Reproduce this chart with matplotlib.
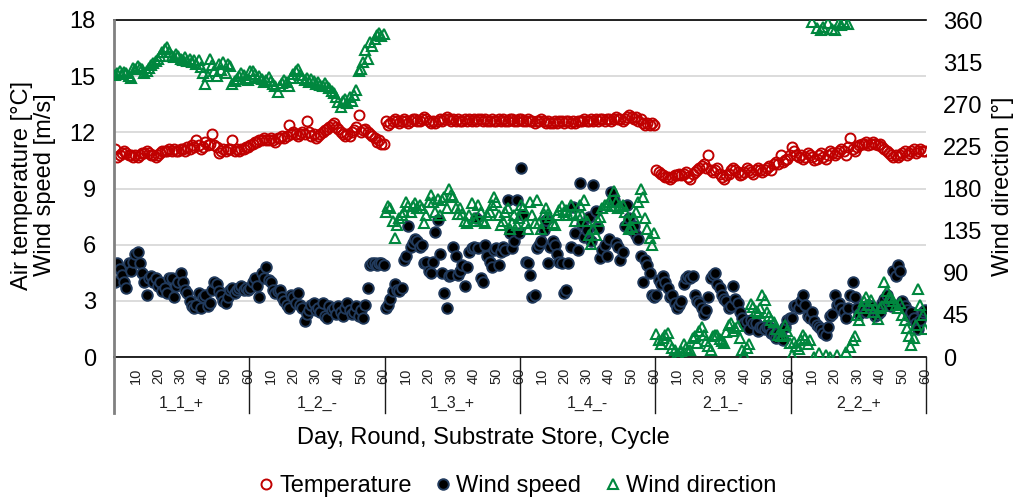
import matplotlib
matplotlib.use("Agg")
import matplotlib.pyplot as plt
import matplotlib.transforms as mtransforms
from matplotlib.lines import Line2D
import numpy as np

plt.rcParams['font.family'] = ['Liberation Sans', 'DejaVu Sans']

groups = ["1_1_+", "1_2_-", "1_3_+", "1_4_-", "2_1_-", "2_2_+"]
tick_labels = ["10", "20", "30", "40", "50", "60"]

# Air temperature [°C]
temp_1_1 = [11.1, 10.7, 10.8, 10.9, 11.0, 10.9, 10.8, 10.8, 10.7, 10.8,
            10.7, 10.8, 10.9, 10.9, 11.0, 10.9, 10.8, 10.8, 10.7, 10.8,
            10.9, 11.0, 11.0, 11.0, 11.1, 11.0, 11.1, 11.0, 11.0, 11.1,
            11.1, 11.0, 11.2, 11.1, 11.3, 11.2, 11.6, 11.3, 11.1, 11.2,
            11.5, 11.3, 11.4, 11.9, 11.3, 11.2, 10.9, 11.0, 11.1, 11.0,
            11.1, 11.1, 11.6, 11.0, 11.1, 11.0, 11.1, 11.1, 11.2, 11.2]
temp_1_2 = [11.3, 11.4, 11.5, 11.5, 11.6, 11.6, 11.7, 11.6, 11.6, 11.7,
            11.6, 11.5, 11.7, 11.7, 11.8, 11.7, 11.8, 12.4, 11.9, 12.0,
            11.9, 11.8, 11.9, 12.0, 11.9, 12.6, 12.0, 11.8, 11.9, 11.7,
            11.8, 11.9, 12.0, 12.1, 12.2, 12.3, 12.4, 12.5, 12.3, 12.2,
            12.0, 11.9, 11.8, 11.9, 11.8, 12.0, 12.1, 12.3, 12.9, 12.0,
            12.1, 12.2, 12.0, 11.9, 11.8, 11.7, 11.5, 11.6, 11.4, 11.4]
temp_1_3 = [12.6, 12.4, 12.5, 12.6, 12.7, 12.6, 12.5, 12.6, 12.7, 12.6,
            12.5, 12.6, 12.7, 12.7, 12.6, 12.6, 12.7, 12.8, 12.7, 12.6,
            12.5, 12.6, 12.5, 12.6, 12.7, 12.6, 12.7, 12.8, 12.7, 12.6,
            12.7, 12.6, 12.7, 12.6, 12.6, 12.7, 12.6, 12.7, 12.6, 12.7,
            12.6, 12.7, 12.7, 12.6, 12.7, 12.6, 12.6, 12.7, 12.6, 12.6,
            12.7, 12.6, 12.7, 12.6, 12.6, 12.7, 12.7, 12.6, 12.6, 12.7]
temp_1_4 = [12.7, 12.6, 12.6, 12.7, 12.6, 12.6, 12.5, 12.6, 12.6, 12.7,
            12.6, 12.5, 12.6, 12.5, 12.5, 12.6, 12.5, 12.6, 12.6, 12.5,
            12.6, 12.6, 12.5, 12.6, 12.5, 12.6, 12.6, 12.6, 12.7, 12.6,
            12.6, 12.7, 12.6, 12.7, 12.6, 12.7, 12.7, 12.6, 12.7, 12.7,
            12.6, 12.7, 12.8, 12.7, 12.7, 12.6, 12.7, 12.8, 12.9, 12.8,
            12.7, 12.8, 12.6, 12.7, 12.5, 12.4, 12.5, 12.4, 12.5, 12.4]
temp_2_1 = [10.0, 9.9, 9.8, 9.7, 9.6, 9.6, 9.5, 9.6, 9.7, 9.7,
            9.8, 9.7, 9.8, 9.9, 9.6, 9.5, 9.8, 9.9, 10.0, 10.1,
            10.2, 10.3, 10.1, 10.8, 10.0, 9.9, 10.0, 10.1, 9.8, 9.6,
            9.5, 9.7, 9.8, 10.0, 10.1, 10.0, 9.9, 9.7, 9.8, 9.9,
            10.1, 10.0, 9.9, 9.8, 10.0, 10.1, 10.0, 9.9, 10.0, 10.1,
            10.2, 10.0, 10.3, 10.4, 10.3, 10.8, 10.4, 10.5, 10.6, 10.8]
temp_2_2 = [11.2, 11.0, 10.8, 10.7, 10.8, 10.6, 10.7, 10.9, 10.8, 10.7,
            10.5, 10.6, 10.8, 10.9, 10.7, 10.6, 10.8, 11.0, 10.9, 10.8,
            10.9, 11.0, 11.1, 11.0, 10.8, 11.2, 11.7, 11.1, 11.0, 11.2,
            11.3, 11.4, 11.4, 11.5, 11.3, 11.4, 11.5, 11.4, 11.3, 11.4,
            11.2, 11.1, 11.0, 10.9, 10.8, 10.7, 10.8, 10.7, 10.8, 10.9,
            11.0, 10.8, 10.9, 11.0, 11.1, 10.9, 11.0, 11.1, 11.0, 11.0]

# Wind speed [m/s]
wind_1_1 = [4.0, 5.0, 4.7, 4.4, 4.0, 3.7, 5.0, 4.6, 5.1, 5.5,
            5.6, 5.0, 4.5, 4.0, 3.3, 4.2, 4.3, 4.0, 4.2, 3.8,
            4.0, 3.5, 3.7, 3.4, 4.2, 4.2, 3.2, 3.8, 4.0, 4.5,
            4.0, 3.6, 3.4, 3.0, 2.7, 2.6, 2.8, 3.4, 2.6, 3.2,
            3.3, 2.7, 2.9, 3.6, 4.0, 3.9, 3.5, 3.3, 3.0, 2.9,
            3.2, 3.6, 3.7, 3.4, 3.6, 3.7, 3.8, 3.6, 3.7, 3.6]
wind_1_2 = [3.7, 4.0, 4.2, 3.8, 3.2, 4.5, 4.2, 4.8, 4.1, 4.0,
            3.6, 3.4, 3.5, 3.6, 3.2, 3.0, 2.8, 2.6, 3.3, 3.2,
            2.9, 3.4, 2.8, 2.6, 1.9, 2.3, 2.5, 2.8, 2.9, 2.5,
            2.6, 2.4, 2.9, 2.2, 2.1, 2.7, 2.5, 2.6, 2.3, 2.7,
            2.4, 2.2, 2.6, 2.9, 2.5, 2.3, 2.4, 2.7, 2.2, 2.5,
            2.1, 2.8, 3.7, 4.9, 5.0, 5.0, 4.9, 5.0, 5.0, 4.9]
wind_1_3 = [2.6, 2.8, 3.1, 3.5, 3.9, 3.6, 3.5, 3.7, 5.2, 5.4,
            7.0, 5.9, 6.1, 6.3, 6.2, 5.9, 6.0, 5.0, 5.1, 4.6,
            4.5, 5.1, 6.7, 7.3, 5.5, 4.5, 3.4, 2.6, 4.3, 4.4,
            5.9, 5.4, 4.4, 4.6, 4.9, 3.8, 4.8, 5.6, 5.8, 5.9,
            7.4, 5.8, 4.2, 4.0, 6.0, 5.4, 5.1, 4.8, 5.7, 5.8,
            4.9, 5.6, 5.9, 5.7, 8.4, 6.6, 5.8, 6.2, 8.4, 6.6]
wind_1_4 = [10.1, 7.6, 5.1, 5.0, 4.4, 3.2, 3.3, 5.8, 6.0, 6.2,
            6.8, 7.3, 5.0, 5.9, 6.2, 6.0, 5.5, 5.1, 5.0, 3.4,
            3.6, 5.0, 5.9, 8.0, 6.6, 5.7, 9.3, 7.1, 6.4, 6.8,
            7.5, 6.2, 9.2, 7.8, 6.9, 5.3, 5.7, 6.0, 5.4, 6.3,
            8.8, 8.4, 6.1, 5.9, 5.2, 5.6, 7.0, 8.1, 7.4, 6.8,
            7.0, 6.5, 6.3, 5.4, 4.0, 5.2, 4.9, 4.5, 3.3, 3.2]
wind_2_1 = [3.3, 4.1, 3.9, 4.3, 4.0, 3.7, 3.2, 3.3, 2.9, 2.6,
            2.8, 3.0, 3.9, 4.2, 4.3, 4.2, 4.3, 3.3, 3.0, 2.9,
            2.6, 2.3, 2.5, 3.2, 4.2, 4.4, 4.5, 3.9, 3.7, 3.3,
            3.1, 3.0, 2.6, 2.7, 3.8, 3.1, 2.9, 2.4, 2.1, 1.8,
            1.9, 1.5, 2.0, 1.8, 1.8, 1.4, 1.6, 1.6, 1.5, 1.6,
            1.6, 1.3, 1.2, 1.0, 1.3, 1.1, 0.9, 1.6, 2.0, 2.1]
wind_2_2 = [2.1, 2.7, 2.8, 2.6, 3.0, 3.3, 2.8, 2.2, 2.1, 2.4,
            1.9, 1.7, 1.6, 1.5, 1.3, 1.2, 1.6, 2.2, 2.3, 3.3,
            2.8, 2.9, 2.6, 2.4, 2.1, 2.6, 3.3, 4.0, 3.2, 2.6,
            2.3, 2.5, 2.6, 2.4, 2.8, 2.7, 2.5, 2.2, 2.3, 2.4,
            2.9, 3.1, 3.3, 2.9, 2.7, 4.6, 4.3, 4.9, 4.6, 3.0,
            2.7, 2.5, 2.2, 2.4, 2.1, 1.8, 1.5, 2.0, 2.4, 2.5]

# Wind direction [°]
wdir_1_1 = [301, 303, 305, 302, 304, 303, 300, 298, 309, 308,
            311, 309, 308, 303, 305, 309, 312, 314, 316, 318,
            322, 326, 329, 331, 326, 322, 321, 324, 322, 318,
            317, 320, 316, 318, 315, 317, 313, 317, 310, 303,
            292, 300, 318, 312, 306, 300, 313, 307, 315, 303,
            313, 311, 292, 295, 297, 300, 303, 301, 298, 296]
wdir_1_2 = [305, 306, 302, 298, 300, 297, 294, 296, 299, 295,
            292, 289, 283, 290, 293, 296, 294, 290, 298, 302,
            305, 308, 301, 298, 296, 298, 294, 297, 295, 292,
            294, 291, 289, 293, 290, 287, 284, 282, 278, 272,
            267, 274, 276, 271, 278, 274, 280, 285, 305, 308,
            315, 328, 318, 336, 332, 340, 344, 346, 343, 345]
wdir_1_3 = [155, 161, 159, 145, 127, 141, 148, 152, 155, 166,
            161, 155, 161, 164, 159, 162, 159, 143, 152, 166,
            173, 166, 155, 169, 152, 168, 171, 159, 180, 173,
            171, 159, 153, 159, 153, 145, 143, 152, 164, 148,
            145, 162, 155, 145, 143, 152, 155, 162, 171, 166,
            152, 141, 145, 155, 159, 137, 143, 152, 141, 148]
wdir_1_4 = [162, 159, 143, 137, 166, 152, 143, 168, 143, 137,
            153, 159, 153, 150, 143, 141, 152, 157, 161, 155,
            157, 152, 162, 153, 145, 152, 162, 152, 168, 145,
            130, 121, 137, 130, 145, 150, 159, 162, 162, 166,
            161, 177, 166, 159, 161, 162, 155, 146, 137, 139,
            148, 155, 166, 180, 171, 148, 137, 127, 120, 132]
wdir_2_1 = [25, 18, 14, 20, 24, 26, 14, 10, 8, 3,
            2, 6, 14, 10, 8, 7, 20, 22, 15, 28,
            32, 24, 17, 12, 8, 22, 24, 23, 19, 17,
            15, 27, 34, 36, 28, 31, 33, 20, 7, 2,
            10, 14, 57, 53, 49, 47, 52, 66, 61, 48,
            44, 40, 37, 30, 24, 22, 24, 34, 28, 15]
wdir_2_2 = [2, 16, 12, 9, 18, 23, 20, 14, 18, 358,
            0, 351, 4, 349, 353, 2, 357, 0, 350, 349,
            2, 357, 355, 358, 5, 356, 11, 18, 22, 45,
            40, 52, 60, 64, 56, 61, 48, 52, 41, 52,
            55, 80, 70, 64, 63, 60, 56, 52, 58, 45,
            40, 31, 22, 13, 20, 34, 73, 56, 45, 30]

temperature = temp_1_1 + temp_1_2 + temp_1_3 + temp_1_4 + temp_2_1 + temp_2_2
wind_speed = wind_1_1 + wind_1_2 + wind_1_3 + wind_1_4 + wind_2_1 + wind_2_2
wind_direction = wdir_1_1 + wdir_1_2 + wdir_1_3 + wdir_1_4 + wdir_2_1 + wdir_2_2

n_per = len(temp_1_1)
x = np.arange(len(temperature))

fig = plt.figure(figsize=(10.19, 4.99), dpi=100)
ax = fig.add_axes([114/1019, 1 - 357/499, (926-114)/1019, (357-20)/499])
ax2 = ax.twinx()

red = "#C00000"
green = "#00873E"

ax.plot(x, temperature, linestyle='none', marker='o', ms=7.2, mfc='none',
        mec=red, mew=1.4, label="Temperature", zorder=3)
ax.plot(x, wind_speed, linestyle='none', marker='o', ms=7.6, mfc='black',
        mec='#213A5C', mew=1.4, label="Wind speed", zorder=4)
ax2.plot(x, wind_direction, linestyle='none', marker='^', ms=7.8, mfc='none',
         mec=green, mew=1.5, label="Wind direction", zorder=5)

ax.set_xlim(-0.5, len(x) - 0.5)
ax.set_ylim(0, 18)
ax.set_yticks(np.arange(0, 19, 3))
ax2.set_ylim(0, 360)
ax2.set_yticks(np.arange(0, 361, 45))

for a in (ax, ax2):
    for s in a.spines.values():
        s.set_visible(False)
ax.spines['top'].set_visible(True)
ax.spines['top'].set_color('black')
ax.spines['top'].set_linewidth(1.2)
ax.spines['bottom'].set_visible(True)
ax.spines['bottom'].set_color('black')
ax.spines['bottom'].set_linewidth(1.2)

ax.yaxis.grid(True, color='#D9D9D9', linewidth=1.3)
ax.set_axisbelow(True)

ax.tick_params(axis='y', length=0, labelsize=17, pad=13)
ax2.tick_params(axis='y', length=0, labelsize=17, pad=12)

# x ticks: 10..60 within each group
ticks = []
labels = []
for g in range(len(groups)):
    for t in tick_labels:
        ticks.append(g * n_per + int(t) - 1)
        labels.append(t)
ax.set_xticks(ticks)
ax.set_xticklabels(labels, rotation=90, fontsize=10.5, color='#222222')
ax.tick_params(axis='x', length=0, pad=8)

trans = mtransforms.blended_transform_factory(ax.transData, ax.transAxes)
for g in range(len(groups) + 1):
    xb = g * n_per - 0.5
    col = '#808080' if g == 0 else '#1a1a1a'
    lw = 2.0 if g == 0 else 1.0
    ytop = 1.0 if g == 0 else 0.0
    ax.add_line(Line2D([xb, xb], [ytop, -0.166], transform=trans, color=col,
                       lw=lw, clip_on=False, zorder=6))
for g, name in enumerate(groups):
    ax.text(g * n_per + (n_per - 1) / 2, -0.137, name, transform=trans,
            ha='center', va='center', fontsize=11.5, color='#222222')

fig.text(22/1019, 1 - 185/499, "Air temperature [°C]", rotation=90,
         ha='center', va='center', fontsize=17)
fig.text(45/1019, 1 - 185/499, "Wind speed [m/s]", rotation=90,
         ha='center', va='center', fontsize=17)
fig.text(1003/1019, 1 - 186/499, "Wind direction [°]", rotation=90,
         ha='center', va='center', fontsize=17)
fig.text(483/1019, 1 - 438/499, "Day, Round, Substrate Store, Cycle",
         ha='center', va='center', fontsize=17)

h1, l1 = ax.get_legend_handles_labels()
h2, l2 = ax2.get_legend_handles_labels()
fig.legend(h1 + h2, l1 + l2, loc='center', bbox_to_anchor=(516/1019, 1 - 486/499),
           ncol=3, frameon=False, fontsize=17, handletextpad=0.1,
           columnspacing=0.9, handlelength=0.9)

fig.savefig("out.png", dpi=100)
